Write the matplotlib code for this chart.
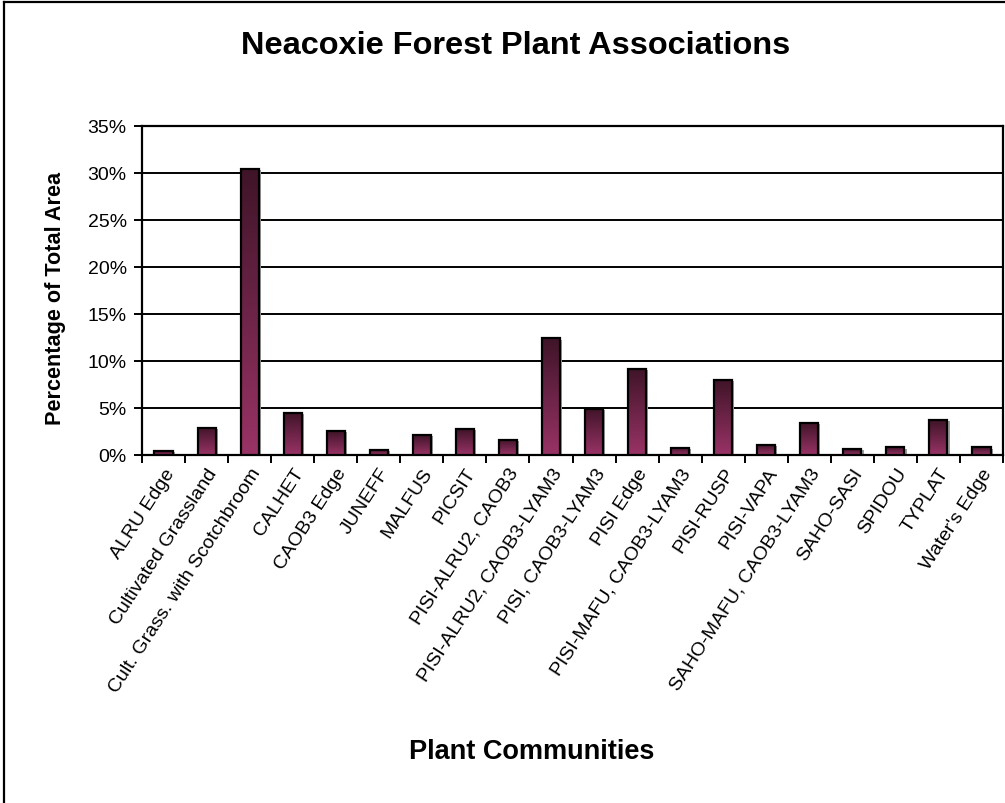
import numpy as np
import matplotlib
matplotlib.use("Agg")
import matplotlib.pyplot as plt
from matplotlib.colors import LinearSegmentedColormap
from matplotlib.lines import Line2D
from matplotlib.patches import Rectangle
from matplotlib.ticker import PercentFormatter

plt.rcParams['font.family'] = ['Liberation Sans', 'DejaVu Sans']

# Plant community areas, as percent of the total area
communities = [
    "ALRU Edge", "Cultivated Grassland", "Cult. Grass. with Scotchbroom",
    "CALHET", "CAOB3 Edge", "JUNEFF", "MALFUS", "PICSIT",
    "PISI-ALRU2, CAOB3", "PISI-ALRU2, CAOB3-LYAM3", "PISI, CAOB3-LYAM3",
    "PISI Edge", "PISI-MAFU, CAOB3-LYAM3", "PISI-RUSP", "PISI-VAPA",
    "SAHO-MAFU, CAOB3-LYAM3", "SAHO-SASI", "SPIDOU", "TYPLAT", "Water's Edge",
]
area_pct = [0.4, 2.9, 30.4, 4.5, 2.55, 0.55, 2.1, 2.75, 1.6, 12.4,
            4.9, 9.2, 0.75, 8.0, 1.1, 3.45, 0.6, 0.8, 3.7, 0.8]
y_ticks = [0, 5, 10, 15, 20, 25, 30, 35]

W, H = 1005, 804
fig = plt.figure(figsize=(W / 100, H / 100), dpi=100)
fig.patch.set_facecolor("white")

# outer chart frame (only left and top edges fall inside the canvas)
fig.add_artist(Line2D([4 / W, 4 / W], [0, 1 - 3 / H], color="black", lw=1.6,
                      transform=fig.transFigure))
fig.add_artist(Line2D([4 / W, 1], [1 - 3 / H, 1 - 3 / H], color="black", lw=1.6,
                      transform=fig.transFigure))

ax = fig.add_axes([142 / W, 1 - 456 / H, (1003 - 142) / W, (456 - 127) / H])

grad = LinearSegmentedColormap.from_list("plum", ["#993366", "#3f1428"])
ramp = np.linspace(0, 1, 256).reshape(-1, 1)

x = np.arange(len(communities))
width = 0.42
for xi, v in zip(x, area_pct):
    x0, x1 = xi - width / 2, xi + width / 2
    # soft grey drop shadow
    ax.add_patch(Rectangle((x0 + 0.05, 0), width, v - 0.12, facecolor="#9a9a9a",
                           edgecolor="none", zorder=2))
    im = ax.imshow(ramp, cmap=grad, extent=(x0, x1, 0, v), origin="lower",
                   aspect="auto", zorder=3, interpolation="bilinear")
    rect = Rectangle((x0, 0), width, v, facecolor="none", edgecolor="black",
                     lw=1.6, zorder=4)
    ax.add_patch(rect)
    im.set_clip_path(rect)

ax.set_xlim(-0.5, len(communities) - 0.5)
ax.set_ylim(0, 35)
ax.set_yticks(y_ticks)
ax.yaxis.set_major_formatter(PercentFormatter(decimals=0))
ax.grid(axis="y", color="black", lw=1.4, zorder=1)
ax.set_axisbelow(True)

ax.set_xticks(x)
ax.set_xticklabels(communities, rotation=57, ha="right", va="top",
                   rotation_mode="anchor", fontsize=14)
ax.set_xticks(np.arange(len(communities) + 1) - 0.5, minor=True)
ax.tick_params(axis="x", which="major", length=0, pad=7)
ax.tick_params(axis="x", which="minor", length=6, width=1.4, direction="out")
ax.tick_params(axis="y", length=6, width=1.4, labelsize=14, pad=5)

for side in ["left", "right", "top", "bottom"]:
    ax.spines[side].set_color("black")
    ax.spines[side].set_linewidth(1.6)

fig.text(516 / W, 1 - 46 / H, "Neacoxie Forest Plant Associations",
         ha="center", va="center", fontsize=23.4, fontweight="bold")
fig.text(532 / W, 1 - 752 / H, "Plant Communities",
         ha="center", va="center", fontsize=19.5, fontweight="bold")
fig.text(55 / W, 1 - 298 / H, "Percentage of Total Area", rotation=90,
         ha="center", va="center", fontsize=15.6, fontweight="bold")

fig.savefig("out.png", dpi=100, facecolor="white")
